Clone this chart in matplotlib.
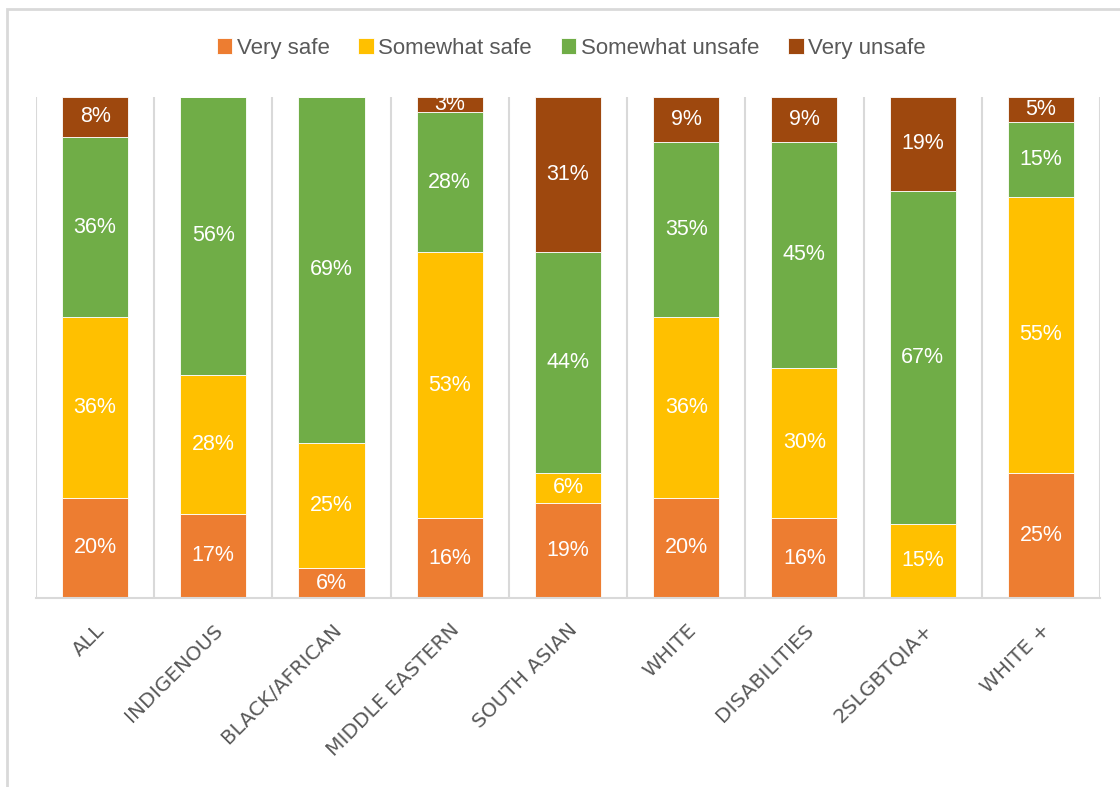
import matplotlib
matplotlib.use("Agg")
import matplotlib.pyplot as plt
from matplotlib.patches import Rectangle
import numpy as np

categories = ["ALL", "INDIGENOUS", "BLACK/AFRICAN", "MIDDLE EASTERN", "SOUTH ASIAN",
              "WHITE", "DISABILITIES", "2SLGBTQIA+", "WHITE +"]
very_safe = [20, 17, 6, 16, 19, 20, 16, 0, 25]
somewhat_safe = [36, 28, 25, 53, 6, 36, 30, 15, 55]
somewhat_unsafe = [36, 56, 69, 28, 44, 35, 45, 67, 15]
very_unsafe = [8, 0, 0, 3, 31, 9, 9, 19, 5]

series_names = ["Very safe", "Somewhat safe", "Somewhat unsafe", "Very unsafe"]
series_values = [very_safe, somewhat_safe, somewhat_unsafe, very_unsafe]
colors = ["#ED7D31", "#FFC000", "#70AD47", "#9E480E"]

plt.rcParams["font.family"] = ["Liberation Sans", "DejaVu Sans"]

fig = plt.figure(figsize=(11.2, 7.87), dpi=100)
ax = fig.add_axes([0.0321, 0.240, 0.950, 0.637])

data = np.array(series_values, dtype=float)
totals = data.sum(axis=0)
shares = data / totals * 100
x = np.arange(len(categories))
bottom = np.zeros(len(categories))
width = 0.56

for name, vals, raw, col in zip(series_names, shares, data, colors):
    ax.bar(x, vals, width, bottom=bottom, color=col, label=name,
           edgecolor="white", linewidth=0.6, zorder=2)
    for xi, v, r, b0 in zip(x, vals, raw, bottom):
        if r > 0:
            ax.text(xi, b0 + v / 2, f"{int(r)}%", ha="center", va="center",
                    color="white", fontsize=15.5, zorder=3, clip_on=True)
    bottom += vals

ax.set_xlim(-0.5, len(categories) - 0.5)
ax.set_ylim(0, 100)
ax.set_yticks([])
ax.set_xticks(x)
ax.set_xticklabels(categories, rotation=45, ha="right", rotation_mode="anchor",
                   fontsize=14.5, color="#595959", family="DejaVu Sans")
ax.tick_params(axis="x", length=0, pad=16)
for s in ["top", "right", "left"]:
    ax.spines[s].set_visible(False)
ax.spines["bottom"].set_color("#D9D9D9")
ax.spines["bottom"].set_linewidth(1.5)

# vertical separators between categories
for b in np.arange(-0.5, len(categories), 1.0):
    ax.axvline(b, color="#D9D9D9", linewidth=1.5, zorder=1)

fig.legend(loc="center", bbox_to_anchor=(0.51, 0.939), ncol=4, frameon=False,
           fontsize=16, handlelength=0.7, handleheight=0.7, handletextpad=0.2,
           columnspacing=1.3, labelcolor="#595959")

fig.patches.append(Rectangle((7 / 1120, -0.1), 1.2, 1 - 9 / 787 + 0.1,
                             transform=fig.transFigure, fill=False,
                             edgecolor="#D9D9D9", linewidth=2))

fig.savefig("out.png", dpi=100)
